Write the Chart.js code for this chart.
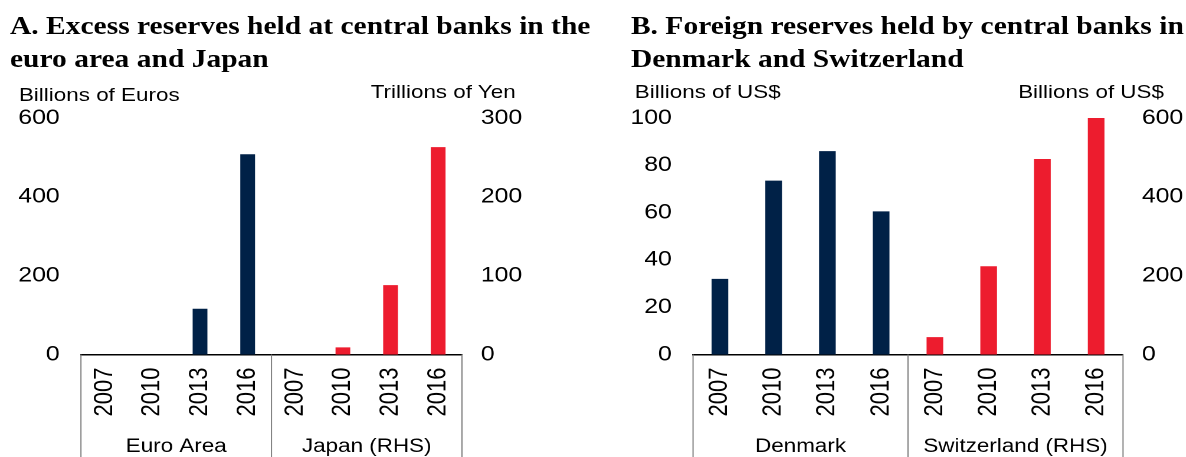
<!DOCTYPE html>
<html>
<head>
<meta charset="utf-8">
<script src="https://cdn.jsdelivr.net/npm/chart.js@4.4.0/dist/chart.umd.min.js"></script>
<style>
 html, body { margin: 0; padding: 0; background: #fff; overflow: hidden; }
 #page { position: absolute; left: 0; top: 0; width: 1005px; height: 457px; transform: scaleX(1.18); transform-origin: 0 0; }
 .title { position: absolute; font: bold 25px "Liberation Serif", "Times New Roman", serif; line-height: 33px; color: #000; white-space: nowrap; }
 .unit { position: absolute; font: 19px "Liberation Sans", Arial, sans-serif; line-height: 19px; color: #000; white-space: nowrap; }
 canvas { position: absolute; top: 0; }
</style>
</head>
<body>
<div id="page">
 <div class="title" style="left:8.5px;top:9px">A. Excess reserves held at central banks in the<br>euro area and Japan</div>
 <div class="title" style="left:534.7px;top:9px">B. Foreign reserves held by central banks in<br>Denmark and Switzerland</div>
 <div class="unit" style="left:16px;top:85px">Billions of Euros</div>
 <div class="unit" style="right:568px;top:82px">Trillions of Yen</div>
 <div class="unit" style="left:538px;top:82px">Billions of US$</div>
 <div class="unit" style="right:18.6px;top:82px">Billions of US$</div>
 <canvas id="chartA" width="502" height="457" style="left:0"></canvas>
 <canvas id="chartB" width="503" height="457" style="left:502px"></canvas>
</div>
<script>
var years = ['2007', '2010', '2013', '2016'];
var euroArea = [0, 0, 116, 508];
var japan = [0, 9, 88, 263];
var denmark = [32, 73.5, 86, 60.5];
var switzerland = [44, 224, 496, 600];
var groupsA = ['Euro Area', 'Japan (RHS)'];
var groupsB = ['Denmark', 'Switzerland (RHS)'];

var navy = '#002147';
var red = '#ED1C2E';
var sans = '"Liberation Sans", Arial, sans-serif';
var blanks = [null, null, null, null];

// separators and group names under the rotated year labels
var groupPlugin = {
	id: 'groups',
	afterDraw: function(chart){
		var x = chart.scales.x, ctx = chart.ctx, area = chart.chartArea;
		var names = chart.options.plugins.groups.names;
		var mid = (x.getPixelForTick(3) + x.getPixelForTick(4)) / 2;
		ctx.save();
		ctx.strokeStyle = '#7f7f7f';
		ctx.lineWidth = 1;
		[area.left, mid, area.right].forEach(function(px){
			ctx.beginPath();
			ctx.moveTo(px, area.bottom);
			ctx.lineTo(px, chart.height);
			ctx.stroke();
		});
		ctx.fillStyle = '#000';
		ctx.font = '19px ' + sans;
		ctx.textAlign = 'center';
		ctx.textBaseline = 'alphabetic';
		ctx.fillText(names[0], (area.left + mid) / 2, 452);
		ctx.fillText(names[1], (mid + area.right) / 2, 452);
		ctx.restore();
	}
};

function makeChart(id, left, right, groups, yMax, yStep, y2Max, y2Step, leftW, rightW){
	var ctx = document.getElementById(id).getContext('2d');
	return new Chart(ctx, {
		type: 'bar',
		data: {
			labels: years.concat(years),
			datasets: [{
				data: left.concat(blanks),
				backgroundColor: navy,
				yAxisID: 'y'
			}, {
				data: blanks.concat(right),
				backgroundColor: red,
				yAxisID: 'y2'
			}]
		},
		options: {
			responsive: false,
			animation: false,
			devicePixelRatio: 2,
			grouped: false,
			barPercentage: 0.31,
			categoryPercentage: 1,
			layout: {padding: {top: 118, bottom: 0, left: 0, right: 0}},
			plugins: {
				legend: {display: false},
				tooltip: {enabled: false},
				groups: {names: groups}
			},
			scales: {
				x: {
					grid: {display: false, drawTicks: false},
					border: {display: true, color: '#000', width: 1.5},
					ticks: {color: '#000', font: {family: sans, size: 22}, minRotation: 90, maxRotation: 90, autoSkip: false, padding: 13},
					afterFit: function(s){ s.height = 102.5; }
				},
				y: {
					position: 'left',
					min: 0, max: yMax,
					grid: {display: false, drawTicks: false},
					border: {display: false},
					ticks: {stepSize: yStep, color: '#000', font: {family: sans, size: 21}, padding: 18},
					afterFit: function(s){ s.width = leftW; }
				},
				y2: {
					position: 'right',
					min: 0, max: y2Max,
					grid: {display: false, drawTicks: false},
					border: {display: false},
					ticks: {stepSize: y2Step, color: '#000', font: {family: sans, size: 21}, padding: 16},
					afterFit: function(s){ s.width = rightW; }
				}
			}
		},
		plugins: [groupPlugin]
	});
}

makeChart('chartA', euroArea, japan, groupsA, 600, 200, 300, 100, 68.6, 110.5);
makeChart('chartB', denmark, switzerland, groupsB, 100, 20, 600, 200, 85.3, 53.3);
</script>
</body>
</html>
